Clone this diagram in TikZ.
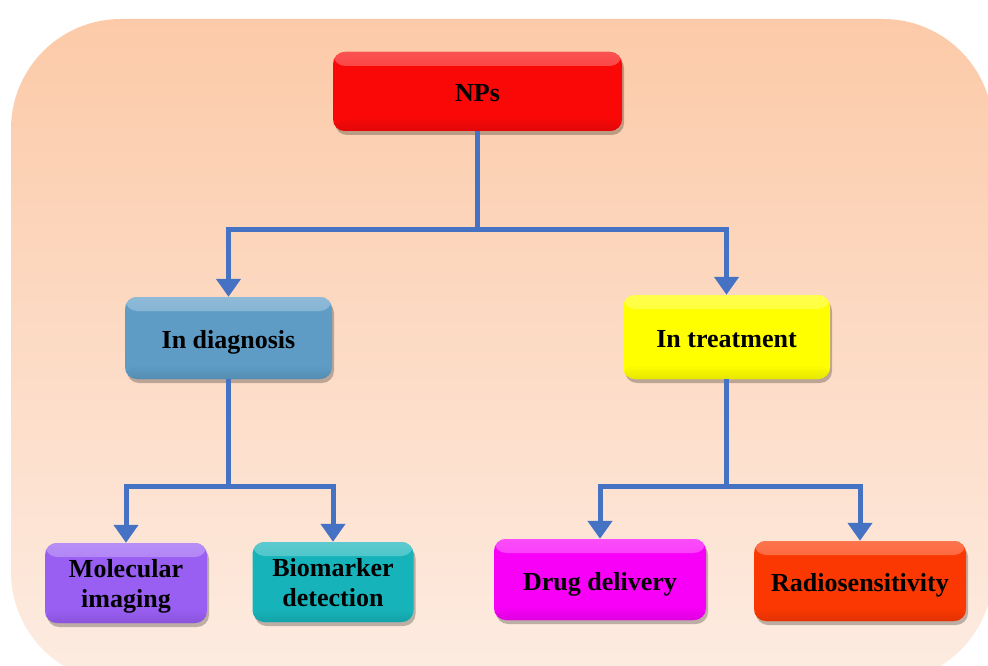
\documentclass[tikz,border=0pt]{standalone}
\usepackage{fontspec}
\setmainfont{Liberation Serif}
\usetikzlibrary{shadows,arrows.meta}
\definecolor{bgtop}{RGB}{252,202,168}
\definecolor{bgbot}{RGB}{253,236,226}
\definecolor{conncol}{RGB}{70,114,196}
\definecolor{cnps}{RGB}{250,8,8}
\definecolor{cdiag}{RGB}{94,156,198}
\definecolor{ctreat}{RGB}{255,255,0}
\definecolor{cmol}{RGB}{153,94,242}
\definecolor{cbio}{RGB}{22,180,186}
\definecolor{cdrug}{RGB}{248,0,248}
\definecolor{crad}{RGB}{252,56,2}
\tikzset{
  bx/.style={rounded corners=12pt, inner sep=0pt, align=center,
    font=\bfseries\fontsize{26}{30}\selectfont, text=black,
    fill=#1, text depth=0pt,
    drop shadow={shadow xshift=2pt, shadow yshift=-4pt, opacity=0.25, fill=black},
    path picture={\shade[top color=white!30!#1, bottom color=#1]
      (path picture bounding box.north west) rectangle ([yshift=-14pt]path picture bounding box.north east);
      \shade[top color=#1, bottom color=#1!90!black]
      ([yshift=14pt]path picture bounding box.south west) rectangle (path picture bounding box.south east);}},
  oneline/.style={text height=21pt},
  conn/.style={draw=conncol, line width=5pt},
  arr/.style={conn, -{Triangle[width=24pt,length=18pt]}}
}
\begin{document}
\begin{tikzpicture}[x=1pt,y=-1pt]
\useasboundingbox (0,0) rectangle (988,666);
\fill[white] (0,0) rectangle (988,666);
\begin{scope}
\clip (0,0) rectangle (988,666);
\shade[top color=bgtop, bottom color=bgbot, rounded corners=110pt] (11,19) rectangle (993,682);
\end{scope}

\node[bx=cnps, oneline, minimum width=289pt, minimum height=79pt] (nps) at (477.5,91.5) {NPs};
\node[bx=cdiag, oneline, minimum width=207pt, minimum height=82pt] (diag) at (228.5,338) {In diagnosis};
\node[bx=ctreat, oneline, minimum width=207pt, minimum height=84pt] (treat) at (726.5,337) {In treatment};
\node[bx=cmol, minimum width=162pt, minimum height=80pt] (mol) at (126,583) {Molecular\\imaging};
\node[bx=cbio, minimum width=161pt, minimum height=80pt] (bio) at (333,582) {Biomarker\\detection};
\node[bx=cdrug, oneline, minimum width=212pt, minimum height=81pt] (drug) at (600,579.5) {Drug delivery};
\node[bx=crad, oneline, minimum width=212pt, minimum height=80pt] (rad) at (860,581) {Radiosensitivity};

\coordinate (j1) at (477.5,229);
\coordinate (j2) at (228.5,486);
\coordinate (j3) at (726.5,486);

\draw[conn] (nps.south) -- (j1);
\draw[arr] (j1) -| (diag.north);
\draw[arr] (j1) -| (treat.north);
\draw[conn] (diag.south) -- (j2);
\draw[arr] (j2) -| (mol.north);
\draw[arr] (j2) -| (bio.north);
\draw[conn] (treat.south) -- (j3);
\draw[arr] (j3) -| (drug.north);
\draw[arr] (j3) -| (rad.north);
\end{tikzpicture}
\end{document}
